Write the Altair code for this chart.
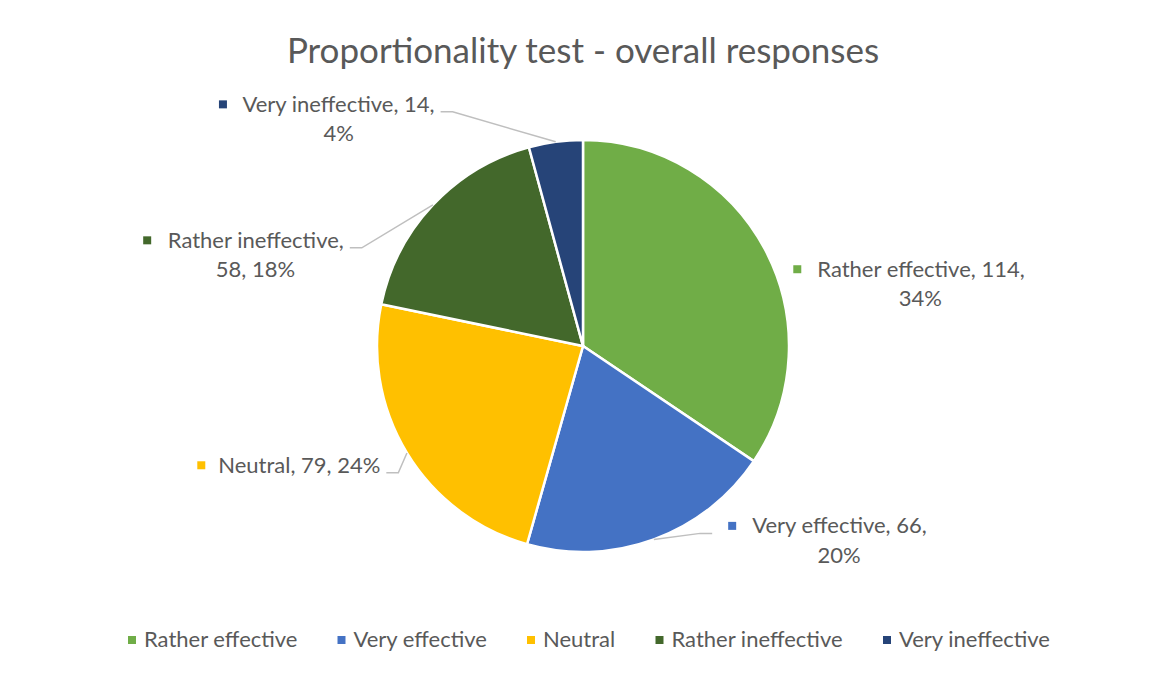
import math
import altair as alt
import pandas as pd

# ---- data ----
categories = ["Rather effective", "Very effective", "Neutral", "Rather ineffective", "Very ineffective"]
counts = [114, 66, 79, 58, 14]
colors = ["#70AD47", "#4472C4", "#FFC000", "#43682B", "#264478"]
title_text = "Proportionality test - overall responses"

# ---- label layout (Excel-like placement of data labels) ----
label_dtheta = [7.2, -11.9, -3.2, -19.3, -21.5]   # angular nudge from slice mid-angle (deg)
label_radius = [195, 221, 224, 242, 268]          # distance of the label elbow from centre (px)
label_leader = [False, True, True, True, True]
label_line1_parts = [2, 2, 3, 1, 2]               # how many comma parts on the first line

CX, CY, R = 575, 338, 206
FONT = "Lato"
TEXT_COLOR = "#595959"
LABEL_SIZE = 22
LEADER_COLOR = "#BFBFBF"

_w = {'a': .479, 'b': .525, 'c': .423, 'd': .525, 'e': .498, 'f': .305, 'g': .471, 'h': .525,
      'i': .229, 'j': .239, 'k': .455, 'l': .229, 'm': .799, 'n': .525, 'o': .527, 'p': .525,
      'q': .525, 'r': .349, 's': .391, 't': .335, 'u': .525, 'v': .452, 'w': .715, 'x': .433,
      'y': .453, 'z': .395, 'R': .544, 'V': .579, 'N': .646, 'P': .517, ' ': .226, ',': .250,
      '%': .715, '-': .306}


def text_width(s, size=LABEL_SIZE):
    em = sum(_w.get(ch, .507) for ch in s)
    return em * size * 1.07


total = sum(counts)
pcts = [round(c / total * 100) for c in counts]

pie_df = pd.DataFrame({"cat": categories, "count": counts, "idx": list(range(len(categories)))})

leader_rows, left_rows, right_rows, line2_rows, sq_rows = [], [], [], [], []
cum = 0
for i, (cat, c, p) in enumerate(zip(categories, counts, pcts)):
    mid = (cum + c / 2) / total * 2 * math.pi
    cum += c
    ang = mid + math.radians(label_dtheta[i])
    ax = CX + label_radius[i] * math.sin(ang)
    ay = CY - label_radius[i] * math.cos(ang)
    right = math.sin(ang) > 0
    tx = ax + 12 if right else ax - 12
    if label_leader[i]:
        sx = CX + R * math.sin(mid)
        sy = CY - R * math.cos(mid)
        for k, (px, py) in enumerate([(sx, sy), (ax, ay), (tx, ay)]):
            leader_rows.append({"cat": cat, "k": k, "px": px, "py": py})
    parts = [cat, str(c), f"{p}%"]
    n1 = label_line1_parts[i]
    line1 = ", ".join(parts[:n1]) + ("," if n1 < 3 else "")
    line2 = ", ".join(parts[n1:])
    w1 = text_width(line1)
    if right:
        sqx = tx + 20
        start = tx + 40
        right_rows.append({"t": line1, "x": start, "y": ay})
        center = start + w1 / 2
    else:
        end = tx - 6
        left_rows.append({"t": line1, "x": end, "y": ay})
        center = end - w1 / 2
        sqx = end - w1 - 20
    if line2:
        line2_rows.append({"t": line2, "x": center, "y": ay + 29.5})
    sq_rows.append({"x": sqx, "y": ay - 7.5, "color": colors[i]})

pie = alt.Chart(pie_df).mark_arc(outerRadius=R, stroke="white", strokeWidth=2.5).encode(
    theta=alt.Theta("count:Q", stack=True),
    color=alt.Color(
        "cat:N",
        scale=alt.Scale(domain=categories, range=colors),
        sort=categories,
        legend=alt.Legend(
            title=None, orient="none", direction="horizontal", legendX=113, legendY=621,
            symbolType="square", symbolSize=64, symbolStrokeWidth=0, labelFont=FONT,
            labelFontSize=LABEL_SIZE, labelColor=TEXT_COLOR, labelOffset=1,
            columnPadding=32.5, labelLimit=400,
        ),
    ),
    order=alt.Order("idx:Q"),
    x=alt.value(CX),
    y=alt.value(CY),
)

leaders = alt.Chart(pd.DataFrame(leader_rows)).mark_line(color=LEADER_COLOR, strokeWidth=1.5).encode(
    x=alt.X("px:Q", scale=None), y=alt.Y("py:Q", scale=None), detail="cat:N", order="k:Q"
)

txt_kw = dict(font=FONT, fontSize=LABEL_SIZE, color=TEXT_COLOR, baseline="alphabetic")
lab_right = alt.Chart(pd.DataFrame(right_rows)).mark_text(align="left", **txt_kw).encode(
    x=alt.X("x:Q", scale=None), y=alt.Y("y:Q", scale=None), text="t:N")
lab_left = alt.Chart(pd.DataFrame(left_rows)).mark_text(align="right", **txt_kw).encode(
    x=alt.X("x:Q", scale=None), y=alt.Y("y:Q", scale=None), text="t:N")
lab_line2 = alt.Chart(pd.DataFrame(line2_rows)).mark_text(align="center", **txt_kw).encode(
    x=alt.X("x:Q", scale=None), y=alt.Y("y:Q", scale=None), text="t:N")
squares = alt.Chart(pd.DataFrame(sq_rows)).mark_square(size=64, opacity=1).encode(
    x=alt.X("x:Q", scale=None), y=alt.Y("y:Q", scale=None),
    color=alt.Color("color:N", scale=None))

title = alt.Chart(pd.DataFrame({"t": [title_text]})).mark_text(
    font=FONT, fontSize=35, color=TEXT_COLOR, align="center", baseline="alphabetic"
).encode(x=alt.value(CX), y=alt.value(55), text="t:N")

chart = alt.layer(pie, leaders, lab_right, lab_left, lab_line2, squares, title).properties(
    width=1133, height=655, padding=0, background="white"
).configure_view(stroke=None)

chart.save("out.html", embed_options={"renderer": "svg", "actions": False})
